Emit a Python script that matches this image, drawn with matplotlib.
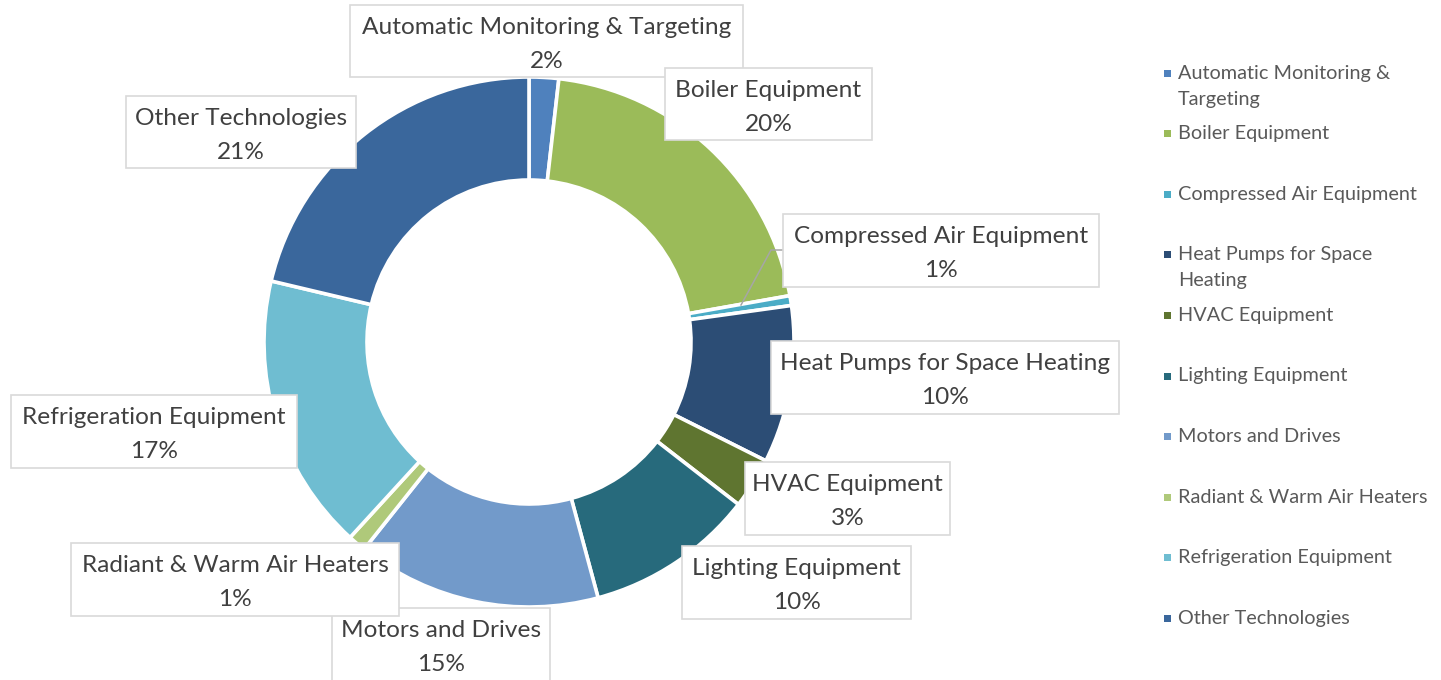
import matplotlib
matplotlib.use("Agg")
import matplotlib.pyplot as plt
from matplotlib.patches import Rectangle

# ---- data ----
CATEGORIES = ["Automatic Monitoring & Targeting", "Boiler Equipment", "Compressed Air Equipment",
              "Heat Pumps for Space Heating", "HVAC Equipment", "Lighting Equipment",
              "Motors and Drives", "Radiant & Warm Air Heaters", "Refrigeration Equipment",
              "Other Technologies"]
SHARES = [1.8, 20.4, 0.6, 9.6, 3.1, 10.3, 14.9, 1.1, 16.9, 21.3]
LEGEND_LABELS = ["Automatic Monitoring &\nTargeting", "Boiler Equipment", "Compressed Air Equipment",
                 "Heat Pumps for Space\nHeating", "HVAC Equipment", "Lighting Equipment",
                 "Motors and Drives", "Radiant & Warm Air Heaters", "Refrigeration Equipment",
                 "Other Technologies"]
COLORS = ["#4F81BD", "#9BBB59", "#4BACC6", "#2C4D75", "#5F7530", "#276A7C",
          "#729ACA", "#AFC97A", "#6FBDD1", "#3A679C"]

# ---- layout (pixels, y down) ----
W, H = 1441, 680
CX, CY, R_OUT, R_IN = 529, 342, 265, 162
# label boxes: left, top, right, bottom
BOXES = [(350, 5, 743, 77), (665, 68, 872, 140), (783, 214, 1099, 287),
         (771, 341, 1119, 414), (745, 462, 950, 535), (682, 546, 911, 619),
         (332, 608, 550, 690), (71, 543, 399, 616), (11, 395, 297, 468),
         (126, 96, 356, 168)]
FONT = "Lato"
TXT = "#404040"

fig = plt.figure(figsize=(W / 100, H / 100), dpi=100)
ax = fig.add_axes([0, 0, 1, 1])
wedges, _ = ax.pie(SHARES, colors=COLORS, startangle=90, counterclock=False,
                   center=(CX, H - CY), radius=R_OUT,
                   wedgeprops=dict(width=R_OUT - R_IN, edgecolor="white", linewidth=2.6))
ax.set_xlim(0, W); ax.set_ylim(0, H); ax.set_aspect("equal"); ax.axis("off")

# leader line for the tiny compressed-air slice
ax.plot([741, 771, 783], [H - 305, H - 250, H - 250], color="#a6a6a6", lw=1.1, zorder=3)

for name, v, (l, t, r, b) in zip(CATEGORIES, SHARES, BOXES):
    ax.add_patch(Rectangle((l, H - b), r - l, b - t, fc="white", ec="#d9d9d9", lw=1.2, zorder=4))
    xc = (l + r) / 2
    ax.text(xc, H - (t + 29), name, ha="center", va="baseline", fontsize=17.6,
            family=FONT, color=TXT, zorder=5)
    ax.text(xc, H - (t + 63), f"{round(v):.0f}%", ha="center", va="baseline", fontsize=17.6,
            family=FONT, color=TXT, zorder=5)

# legend drawn by hand so that wrapped entries keep the even spacing
for i, (lab, c) in enumerate(zip(LEGEND_LABELS, COLORS)):
    y = 73 + i * 60.6
    ax.add_patch(Rectangle((1164, H - y - 3.5), 7, 7, fc=c, ec="none"))
    for j, line in enumerate(lab.split("\n")):
        ax.text(1178, H - y - 26 * j - 5.5, line, ha="left", va="baseline", fontsize=14.3,
                family=FONT, color="#595959")

fig.savefig("out.png", dpi=100)
